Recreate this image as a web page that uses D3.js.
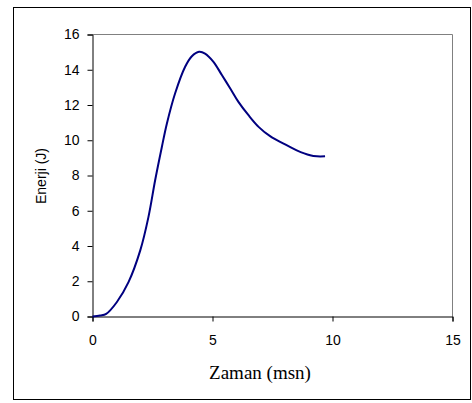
<!DOCTYPE html>
<html lang="tr">
<head>
    <meta charset="UTF-8">
    <script src="https://cdnjs.cloudflare.com/ajax/libs/d3/7.8.5/d3.min.js"></script>
    <style>
        body { margin: 0; background: #fff; }
    </style>
</head>
<body>
<svg id="chart" width="472" height="403"></svg>
<script>
    // zaman (msn) ve enerji (J) okumalari
    var zaman = [0, 0.32, 0.57, 1.01, 1.5, 1.99, 2.33, 2.61, 2.89, 3.1, 3.44, 3.86, 4.14, 4.44,
        4.69, 5.04, 5.39, 5.74, 6.08, 6.5, 6.92, 7.4, 7.96, 8.51, 9.07, 9.35, 9.69];
    var enerji = [0, 0.06, 0.15, 0.81, 1.95, 3.75, 5.64, 7.73, 9.62, 10.95, 12.65, 14.17, 14.77, 15.02,
        14.92, 14.45, 13.7, 12.94, 12.18, 11.42, 10.76, 10.23, 9.81, 9.43, 9.15, 9.09, 9.09];
    var xTicks = [0, 5, 10, 15];
    var yTicks = [0, 2, 4, 6, 8, 10, 12, 14, 16];

    var svg = d3.select("#chart");

    // dis cerceve
    svg.append("rect")
        .attr("x", 13.5).attr("y", 7.5)
        .attr("width", 457).attr("height", 392)
        .attr("fill", "none").attr("stroke", "#000").attr("stroke-width", 1);

    var x = d3.scaleLinear().domain([0, 15]).range([92.5, 452.5]);
    var y = d3.scaleLinear().domain([0, 16]).range([316.5, 34.5]);

    // plot alaninin ust ve sag kenari (gri)
    svg.append("path")
        .attr("d", "M" + x(0) + "," + y(16) + "H" + x(15) + "V" + y(0))
        .attr("fill", "none").attr("stroke", "#808080").attr("stroke-width", 1);

    function styleAxis(g) {
        g.attr("font-family", "Arial, 'Liberation Sans', sans-serif").attr("font-size", 14);
        g.selectAll("path, line").attr("stroke", "#000");
        g.selectAll("text").attr("fill", "#000");
    }

    svg.append("g")
        .attr("transform", "translate(0," + y(0) + ")")
        .call(d3.axisBottom(x).tickValues(xTicks).tickSize(5).tickPadding(14))
        .call(styleAxis);

    svg.append("g")
        .attr("transform", "translate(" + x(0) + ",0)")
        .call(d3.axisLeft(y).tickValues(yTicks).tickSize(5).tickPadding(8))
        .call(styleAxis);

    var data = zaman.map(function (t, i) { return [t, enerji[i]]; });

    svg.append("path")
        .datum(data)
        .attr("fill", "none")
        .attr("stroke", "#000080")
        .attr("stroke-width", 2)
        .attr("d", d3.line()
            .x(function (d) { return x(d[0]); })
            .y(function (d) { return y(d[1]); })
            .curve(d3.curveCatmullRom));

    svg.append("text")
        .attr("x", 260).attr("y", 379)
        .attr("text-anchor", "middle")
        .attr("font-family", "'Liberation Serif', 'Times New Roman', serif")
        .attr("font-size", 19)
        .text("Zaman (msn)");

    svg.append("text")
        .attr("transform", "translate(46,176) rotate(-90)")
        .attr("text-anchor", "middle")
        .attr("font-family", "Arial, 'Liberation Sans', sans-serif")
        .attr("font-size", 14)
        .text("Enerji (J)");
</script>
</body>
</html>
